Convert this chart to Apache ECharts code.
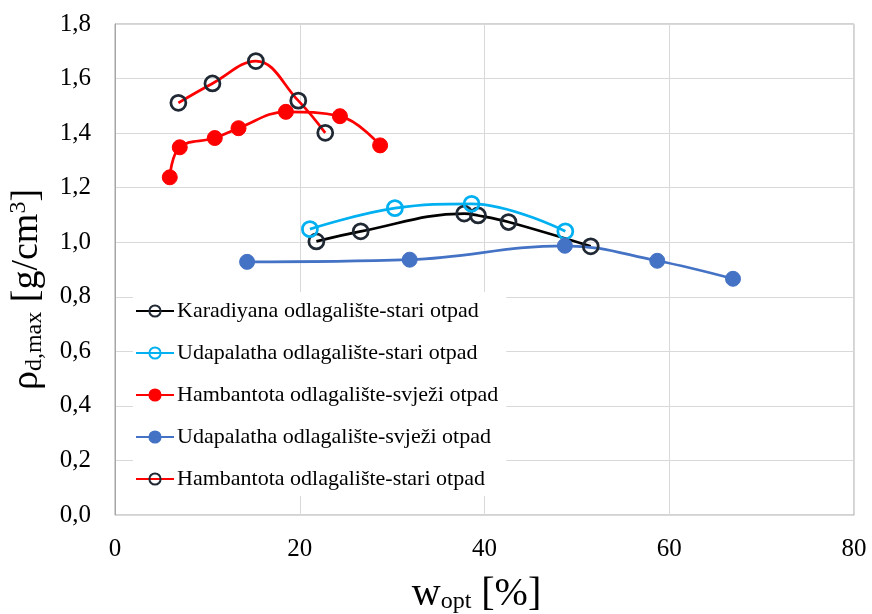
<!DOCTYPE html>
<html><head><meta charset="utf-8">
<script src="https://cdn.jsdelivr.net/npm/echarts@6/dist/echarts.min.js"></script>
<style>html,body{margin:0;padding:0;background:#fff}#c{width:872px;height:614px}</style>
</head><body><div id="c"></div>
<script>
const seriesNames = [
  'Karadiyana odlagalište-stari otpad',
  'Udapalatha odlagalište-stari otpad',
  'Hambantota odlagalište-svježi otpad',
  'Udapalatha odlagalište-svježi otpad',
  'Hambantota odlagalište-stari otpad'
];
const karadiyanaStariW = [21.8, 26.6, 37.8, 39.3, 42.6, 51.5];
const karadiyanaStariRho = [1.003, 1.040, 1.105, 1.098, 1.074, 0.985];
const udapalathaStariW = [21.1, 30.3, 38.6, 48.75];
const udapalathaStariRho = [1.048, 1.125, 1.141, 1.040];
const hambantotaSvjeziW = [5.93, 7.01, 10.8, 13.37, 18.5, 24.35, 28.7];
const hambantotaSvjeziRho = [1.238, 1.348, 1.382, 1.418, 1.478, 1.462, 1.355];
const udapalathaSvjeziW = [14.3, 31.9, 48.7, 58.7, 66.9];
const udapalathaSvjeziRho = [0.928, 0.936, 0.987, 0.932, 0.866];
const hambantotaStariW = [6.86, 10.55, 15.25, 19.84, 22.76];
const hambantotaStariRho = [1.511, 1.582, 1.664, 1.519, 1.401];

const zip = (a, b) => a.map((v, i) => [v, b[i]]);
const font = '"Liberation Serif", "Times New Roman", serif';

function mk(name, xs, ys, lineColor, filled, markerColor) {
  return {
    name, type: 'line', data: zip(xs, ys), smooth: 0.4,
    symbol: 'circle', symbolSize: 15,
    lineStyle: { color: lineColor, width: 2.75 },
    itemStyle: filled ? { color: markerColor, borderColor: markerColor, borderWidth: 1 }
                      : { color: 'rgba(255,255,255,0)', borderColor: markerColor, borderWidth: 2.75 },
    color: lineColor,
    emphasis: { disabled: true }
  };
}

const chart = echarts.init(document.getElementById('c'), null, { renderer: 'canvas' });
chart.setOption({
  animation: false,
  backgroundColor: '#fff',
  grid: { left: 115, right: 18, top: 24, bottom: 99, containLabel: false, outerBoundsMode: 'none',
          show: true, borderColor: '#a6a6a6', borderWidth: 1 },
  xAxis: {
    type: 'value', min: 0, max: 80, interval: 20,
    axisLine: { show: true, lineStyle: { color: '#d9d9d9', width: 1 } },
    axisTick: { show: false },
    splitLine: { show: true, lineStyle: { color: '#d9d9d9', width: 1 } },
    axisLabel: { fontFamily: font, fontSize: 25, color: '#000', margin: 22 },
    name: '{a|w}{s|opt}{a| [%]}', nameLocation: 'middle', nameGap: 59,
    nameTextStyle: { padding: [0, 16, 0, 0], rich: {
      a: { fontFamily: font, fontSize: 40, color: '#000' },
      s: { fontFamily: font, fontSize: 24, color: '#000', verticalAlign: 'bottom', padding: [12, 0, 0, 0] }
    } }
  },
  yAxis: {
    type: 'value', min: 0, max: 1.8, interval: 0.2,
    axisLine: { show: true, lineStyle: { color: '#a6a6a6', width: 1 } },
    axisTick: { show: false },
    splitLine: { show: true, lineStyle: { color: '#d9d9d9', width: 1 } },
    axisLabel: { fontFamily: font, fontSize: 25, color: '#000', margin: 24,
      formatter: v => v.toFixed(1).replace('.', ',') },
    name: '{a|ρ}{s|d,max}{a| [g/cm}{p|3}{a|]}', nameLocation: 'middle', nameGap: 68, nameRotate: 90,
    nameTextStyle: { padding: [0, 40, 0, 0], rich: {
      a: { fontFamily: font, fontSize: 38, color: '#000' },
      s: { fontFamily: font, fontSize: 24, color: '#000', verticalAlign: 'bottom', padding: [16, 0, 0, 0] },
      p: { fontFamily: font, fontSize: 24, color: '#000', verticalAlign: 'top', padding: [0, 0, 16, 0] }
    } }
  },
  legend: {
    orient: 'vertical', left: 133, top: 292, itemGap: 20,
    backgroundColor: '#fff', padding: [8, 8, 6, 2],
    itemWidth: 38, itemHeight: 14,
    textStyle: { fontFamily: font, fontSize: 22, color: '#000', padding: [0, 0, 0, -2] },
    data: seriesNames
  },
  series: [
    mk(seriesNames[0], karadiyanaStariW, karadiyanaStariRho, '#000000', false, '#1f2833'),
    mk(seriesNames[1], udapalathaStariW, udapalathaStariRho, '#00B0F0', false, '#00B0F0'),
    mk(seriesNames[2], hambantotaSvjeziW, hambantotaSvjeziRho, '#FF0000', true, '#FF0000'),
    mk(seriesNames[3], udapalathaSvjeziW, udapalathaSvjeziRho, '#4472C4', true, '#4472C4'),
    mk(seriesNames[4], hambantotaStariW, hambantotaStariRho, '#FF0000', false, '#1f2833')
  ]
});
</script></body></html>
